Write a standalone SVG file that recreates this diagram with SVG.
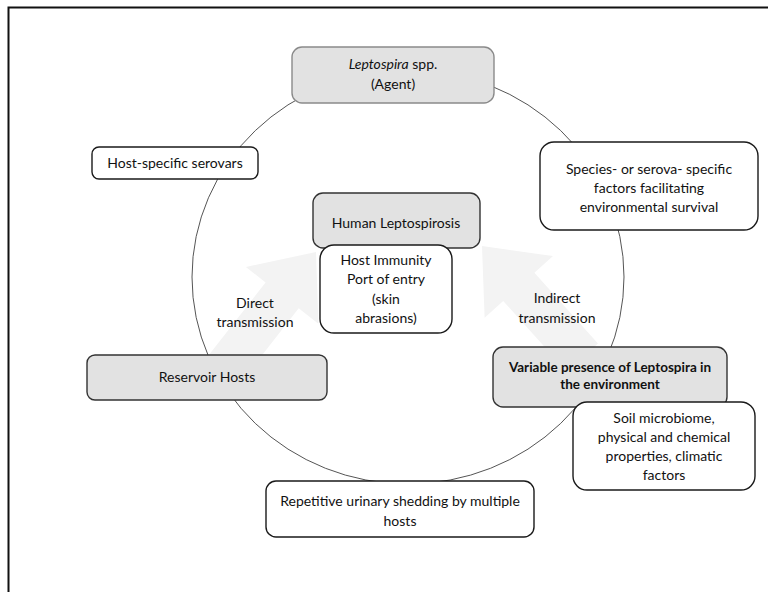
<svg xmlns="http://www.w3.org/2000/svg" width="768" height="592" viewBox="0 0 768 592">
<style>
.t{font-family:Lato,"Liberation Sans",sans-serif;font-size:14px;fill:#111;text-anchor:middle}
.b{font-weight:bold;font-size:13.5px}
.w{fill:#fff;stroke:#1a1a1a;stroke-width:1.4}
.g{fill:#e2e2e2;stroke:#333;stroke-width:1.4}
.ga{fill:#e2e2e2;stroke:#8a8a8a;stroke-width:1.4}
.arr{fill:#f3f3f3}
</style>
<rect width="768" height="592" fill="#fff"/>
<path d="M8.5 592V7.5H768" fill="none" stroke="#111" stroke-width="2"/>
<g id="connectors">
<g id="arrow-direct" transform="translate(316,252) rotate(-52)"><path class="arr" d="M0 0L-55 -46L-55 -21L-150 -21L-150 21L-55 21L-55 46Z"/></g>
<g id="arrow-indirect" transform="translate(482,246) rotate(228)"><path class="arr" d="M0 0L-55 -46L-55 -21L-150 -21L-150 21L-55 21L-55 46Z"/></g>
<ellipse id="cycle" cx="408" cy="277" rx="216" ry="207" fill="none" stroke="#555" stroke-width="1"/>
</g>
<g id="agent"><rect class="ga" x="292" y="47" width="202" height="56" rx="10"/>
<text class="t" x="393" y="69"><tspan font-style="italic">Leptospira</tspan> spp.</text>
<text class="t" x="393" y="89">(Agent)</text></g>
<g id="serovars"><rect class="w" x="92" y="147" width="166" height="32" rx="7"/>
<text class="t" x="175" y="168">Host-specific serovars</text></g>
<g id="species"><rect class="w" x="540" y="142" width="218" height="88" rx="14"/>
<text class="t" x="649" y="174">Species- or serova- specific</text>
<text class="t" x="649" y="193">factors facilitating</text>
<text class="t" x="649" y="212">environmental survival</text></g>
<g id="human"><rect class="g" x="313" y="193" width="167" height="55" rx="10"/>
<text class="t" x="396" y="228">Human Leptospirosis</text></g>
<g id="immunity"><rect class="w" x="320" y="245" width="132" height="88" rx="14"/>
<text class="t" x="386" y="265">Host Immunity</text>
<text class="t" x="386" y="284">Port of entry</text>
<text class="t" x="386" y="304">(skin</text>
<text class="t" x="386" y="323">abrasions)</text></g>
<g id="direct-label"><text class="t" x="255" y="308">Direct</text>
<text class="t" x="255" y="327">transmission</text></g>
<g id="indirect-label"><text class="t" x="557" y="303">Indirect</text>
<text class="t" x="557" y="323">transmission</text></g>
<g id="reservoir"><rect class="g" x="87" y="355" width="240" height="45" rx="8"/>
<text class="t" x="207" y="382">Reservoir Hosts</text></g>
<g id="variable"><rect class="g" x="493" y="347" width="234" height="60" rx="10"/>
<text class="t b" x="610" y="372">Variable presence of Leptospira in</text>
<text class="t b" x="610" y="389">the environment</text></g>
<g id="soil"><rect class="w" x="573" y="402" width="182" height="88" rx="14"/>
<text class="t" x="664" y="423">Soil microbiome,</text>
<text class="t" x="664" y="442">physical and chemical</text>
<text class="t" x="664" y="461">properties, climatic</text>
<text class="t" x="664" y="480">factors</text></g>
<g id="shedding"><rect class="w" x="266" y="481" width="268" height="56" rx="10"/>
<text class="t" x="400" y="506">Repetitive urinary shedding by multiple</text>
<text class="t" x="400" y="526">hosts</text></g>
</svg>
